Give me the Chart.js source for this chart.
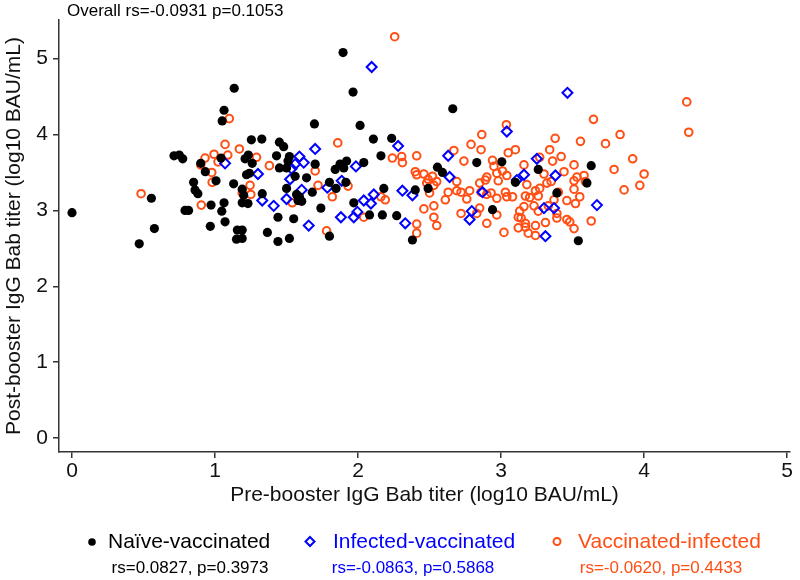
<!DOCTYPE html>
<html>
<head>
<meta charset="utf-8">
<script src="https://cdn.jsdelivr.net/npm/chart.js@4"></script>
<style>
  html, body { margin:0; padding:0; background:#fff; }
  #wrap { width:800px; height:580px; position:relative; }
</style>
</head>
<body>
<div id="wrap"><canvas id="c" width="800" height="580"></canvas></div>
<script>
// ---- data (x = pre-booster, y = post-booster, log10 BAU/mL) ----
const naive = [
 [1.134,4.61],[1.063,4.32],[1.05,4.18],[1.895,5.08],[1.965,4.56],[1.695,4.14],[2.014,4.12],
 [1.254,3.93],[1.327,3.94],[1.45,3.90],[2.107,3.94],[2.235,3.95],[2.662,4.34],[1.48,3.84],
 [0.713,3.72],[0.75,3.73],[0.774,3.68],[1.042,3.69],[0.90,3.62],[0.932,3.51],[1.007,3.39],
 [0.85,3.37],[0.86,3.27],[0.88,3.22],[1.13,3.35],[0.555,3.16],[0.0,2.97],[0.972,3.07],
 [1.063,3.10],[1.047,2.99],[0.79,3.0],[0.815,3.0],[1.07,2.85],[0.967,2.79],[0.576,2.76],
 [0.47,2.56],[1.156,2.74],[1.15,2.62],
 [1.233,3.73],[1.21,3.68],[1.26,3.62],[1.43,3.72],[1.52,3.71],[1.51,3.65],[1.50,3.56],
 [1.45,3.56],[1.70,3.61],[1.22,3.47],[1.24,3.49],[1.874,3.61],[1.92,3.65],[1.90,3.56],
 [1.84,3.54],[2.04,3.63],[2.16,3.72],[1.64,3.43],[1.56,3.45],[1.80,3.37],[1.846,3.29],
 [1.915,3.37],[1.50,3.29],[1.57,3.21],[1.59,3.18],[1.606,3.12],[1.68,3.24],[1.19,3.28],
 [1.20,3.20],[1.33,3.22],[1.19,3.10],[1.23,3.09],[1.58,3.13],[2.18,3.29],[2.40,3.27],
 [1.97,3.10],[1.74,3.03],[1.44,2.91],[1.55,2.89],[2.08,2.94],[2.17,2.94],[2.27,2.93],
 [1.80,2.66],[1.366,2.71],[1.44,2.59],[1.52,2.63],[1.19,2.74],[1.19,2.63],[2.38,2.61],
 [2.83,3.63],[3.005,3.64],[3.63,3.59],[2.555,3.57],[2.59,3.50],[2.49,3.29],[3.10,3.37],
 [3.26,3.54],[3.60,3.36],[3.39,3.23],[2.94,3.01],[3.54,2.60]
];
const infected = [
 [2.095,4.89],[3.464,4.55],[3.04,4.04],[1.07,3.62],[1.70,3.81],[2.28,3.85],[1.59,3.71],
 [1.56,3.61],[1.62,3.63],[1.535,3.55],[1.30,3.48],[1.985,3.58],[1.525,3.41],[1.785,3.30],
 [1.886,3.39],[1.606,3.27],[1.33,3.13],[1.41,3.06],[1.50,3.15],[2.31,3.26],[2.38,3.20],
 [2.11,3.21],[2.04,3.13],[2.09,3.09],[1.655,2.80],[1.88,2.91],[1.97,2.91],[1.995,2.98],
 [2.33,2.83],[2.63,3.72],[2.64,3.44],[3.11,3.40],[3.16,3.47],[3.25,3.68],[3.38,3.46],
 [2.795,2.99],[2.78,2.88],[3.30,3.03],[3.37,3.03],[3.31,2.66],[3.67,3.07],[2.87,3.24]
];
const vaxInfected = [
 [1.10,4.21],[1.07,3.87],[2.256,5.29],[1.858,3.89],[3.646,4.20],[3.037,4.13],[2.865,4.00],
 [3.378,3.95],[3.555,3.91],[2.79,3.87],[4.298,4.43],[4.312,4.03],[3.832,4.00],[3.73,3.88],
 [1.17,3.81],[0.93,3.69],[0.993,3.74],[1.089,3.73],[1.021,3.64],[0.90,3.60],[0.977,3.50],
 [0.98,3.37],[0.483,3.22],[0.904,3.07],
 [1.29,3.70],[1.38,3.59],[1.70,3.52],[2.24,3.69],[2.305,3.71],[2.31,3.63],[2.41,3.72],
 [1.245,3.33],[1.72,3.33],[1.93,3.32],[1.19,3.23],[1.25,3.21],[1.82,3.18],[1.54,3.10],
 [2.16,3.18],[2.19,3.14],[2.04,2.91],[2.41,2.82],[2.41,2.70],[1.78,2.73],
 [2.86,3.80],[2.67,3.79],[2.74,3.65],[2.94,3.66],[2.95,3.58],[3.05,3.76],[3.10,3.80],
 [3.16,3.60],[3.27,3.70],[3.34,3.80],[3.42,3.71],[3.36,3.65],[3.51,3.60],
 [2.40,3.51],[2.41,3.47],[2.46,3.48],[2.49,3.41],[2.52,3.45],[2.55,3.38],[2.53,3.33],
 [2.48,3.36],[2.50,3.23],[2.69,3.38],
 [3.18,3.34],[3.30,3.48],[3.32,3.36],[3.35,3.38],[3.44,3.51],[3.51,3.39],[3.53,3.44],
 [3.58,3.46],[3.59,3.38],[3.51,3.28],[3.40,3.24],[3.24,3.26],[3.27,3.29],[3.03,3.24],
 [3.04,3.18],[3.08,3.18],[3.17,3.19],[3.20,3.17],[3.26,3.19],[3.37,3.14],[3.46,3.13],
 [3.52,3.09],[3.55,3.18],[2.97,3.16],[2.90,3.21],[2.86,3.24],[2.61,3.14],[2.76,3.15],
 [2.85,3.03],[2.53,3.06],[2.46,3.02],[2.83,2.96],[2.72,2.96],[2.97,2.94],[3.16,3.05],
 [3.13,2.99],[3.14,2.90],[3.12,2.91],[3.23,3.06],[3.26,2.99],[3.33,3.06],[3.39,2.96],
 [3.39,2.90],[3.46,2.88],[3.48,2.85],[3.31,2.84],[3.63,2.86],[2.53,2.91],[2.55,2.80],
 [2.90,2.83],[3.12,2.77],[3.17,2.78],[3.17,2.83],[3.19,2.70],[3.24,2.80],[3.24,2.67],
 [3.02,2.71],[3.51,2.76],
 [2.63,3.24],[2.69,3.26],[2.72,3.24],[2.78,3.26],[2.85,3.36],[2.89,3.40],[2.90,3.44],
 [2.97,3.49],[3.01,3.52],[3.04,3.46],[2.98,3.39],[2.93,3.23],
 [3.92,3.68],[3.79,3.54],[4.00,3.48],[3.97,3.33],[3.86,3.27]
];
const xTicks = [0,1,2,3,4,5];
const yTicks = [0,1,2,3,4,5];
const seriesNames = ['Naïve-vaccinated','Infected-vaccinated','Vaccinated-infected'];
const seriesStats = ['rs=0.0827, p=0.3973','rs=-0.0863, p=0.5868','rs=-0.0620, p=0.4433'];
const overallText = 'Overall rs=-0.0931 p=0.1053';
const xTitle = 'Pre-booster IgG Bab titer (log10 BAU/mL)';
const yTitle = 'Post-booster IgG Bab titer (log10 BAU/mL)';

const BLACK = '#000000', BLUE = '#0000ff', ORANGE = '#ff4f14';
const FONT = '"Liberation Sans", Arial, sans-serif';
const toPts = a => a.map(p => ({x:p[0], y:p[1]}));

const overlay = {
  id:'overlay',
  afterDraw(chart){
    const ctx = chart.ctx;
    ctx.save();
    ctx.fillStyle = '#000';
    ctx.font = '17px ' + FONT;
    ctx.textBaseline = 'middle';
    ctx.textAlign = 'left';
    ctx.fillText(overallText, 67, 11);
    // legend
    const cols = [BLACK, BLUE, ORANGE];
    const mx = [92, 310, 557], tx = [108, 333, 578], sx = [190, 413, 661];
    for (let i=0;i<3;i++){
      ctx.lineWidth = 2;
      if (i===0){ ctx.fillStyle = BLACK; ctx.beginPath(); ctx.arc(mx[i],542,3.8,0,Math.PI*2); ctx.fill(); }
      if (i===1){ ctx.strokeStyle = BLUE; ctx.beginPath(); ctx.moveTo(mx[i],537); ctx.lineTo(mx[i]+4.5,541.5); ctx.lineTo(mx[i],546); ctx.lineTo(mx[i]-4.5,541.5); ctx.closePath(); ctx.stroke(); }
      if (i===2){ ctx.strokeStyle = ORANGE; ctx.beginPath(); ctx.arc(mx[i],541.5,3.5,0,Math.PI*2); ctx.stroke(); }
      ctx.fillStyle = cols[i];
      ctx.font = '21px ' + FONT; ctx.textAlign = 'left';
      ctx.fillText(seriesNames[i], tx[i], 542);
      ctx.font = '17px ' + FONT; ctx.textAlign = 'center';
      ctx.fillText(seriesStats[i], sx[i], 568);
    }
    ctx.restore();
  }
};

new Chart(document.getElementById('c'), {
  type:'scatter',
  data:{ datasets:[
    {label:seriesNames[0], data:toPts(naive), pointStyle:'circle', radius:4.6, backgroundColor:BLACK, borderColor:BLACK, borderWidth:0},
    {label:seriesNames[1], data:toPts(infected), pointStyle:'rectRot', radius:5, backgroundColor:'rgba(0,0,0,0)', borderColor:BLUE, borderWidth:2},
    {label:seriesNames[2], data:toPts(vaxInfected), pointStyle:'circle', radius:3.8, backgroundColor:'rgba(0,0,0,0)', borderColor:ORANGE, borderWidth:2}
  ]},
  options:{
    responsive:false, animation:false, devicePixelRatio:1,
    layout:{ padding:{ top:20, right:10, bottom:70, left:0 } },
    plugins:{ legend:{display:false}, tooltip:{enabled:false}, title:{display:false} },
    elements:{ point:{ hoverRadius:5 } },
    scales:{
      x:{ type:'linear', min:-0.091, max:5.02,
        afterFit(s){ s.height = 58; },
        afterBuildTicks(s){ s.ticks = xTicks.map(v=>({value:v})); },
        border:{ color:'#333', width:1.5 },
        grid:{ drawOnChartArea:false, drawTicks:true, tickLength:6, color:'#333', lineWidth:1.5 },
        ticks:{ color:'#111', font:{ size:21, family:FONT }, padding:1, maxRotation:0, autoSkip:false },
        title:{ display:true, text:xTitle, color:'#111', font:{ size:21, family:FONT }, padding:{top:0,bottom:2} }
      },
      y:{ type:'linear', min:-0.185, max:5.51,
        afterFit(s){ s.width = 59; },
        afterBuildTicks(s){ s.ticks = yTicks.map(v=>({value:v})); },
        border:{ color:'#333', width:1.5 },
        grid:{ drawOnChartArea:false, drawTicks:true, tickLength:6, color:'#333', lineWidth:1.5 },
        ticks:{ color:'#111', font:{ size:21, family:FONT }, padding:5, autoSkip:false },
        title:{ display:true, text:yTitle, color:'#111', font:{ size:21, family:FONT }, padding:{top:2,bottom:0} }
      }
    }
  },
  plugins:[overlay]
});
</script>
</body>
</html>
